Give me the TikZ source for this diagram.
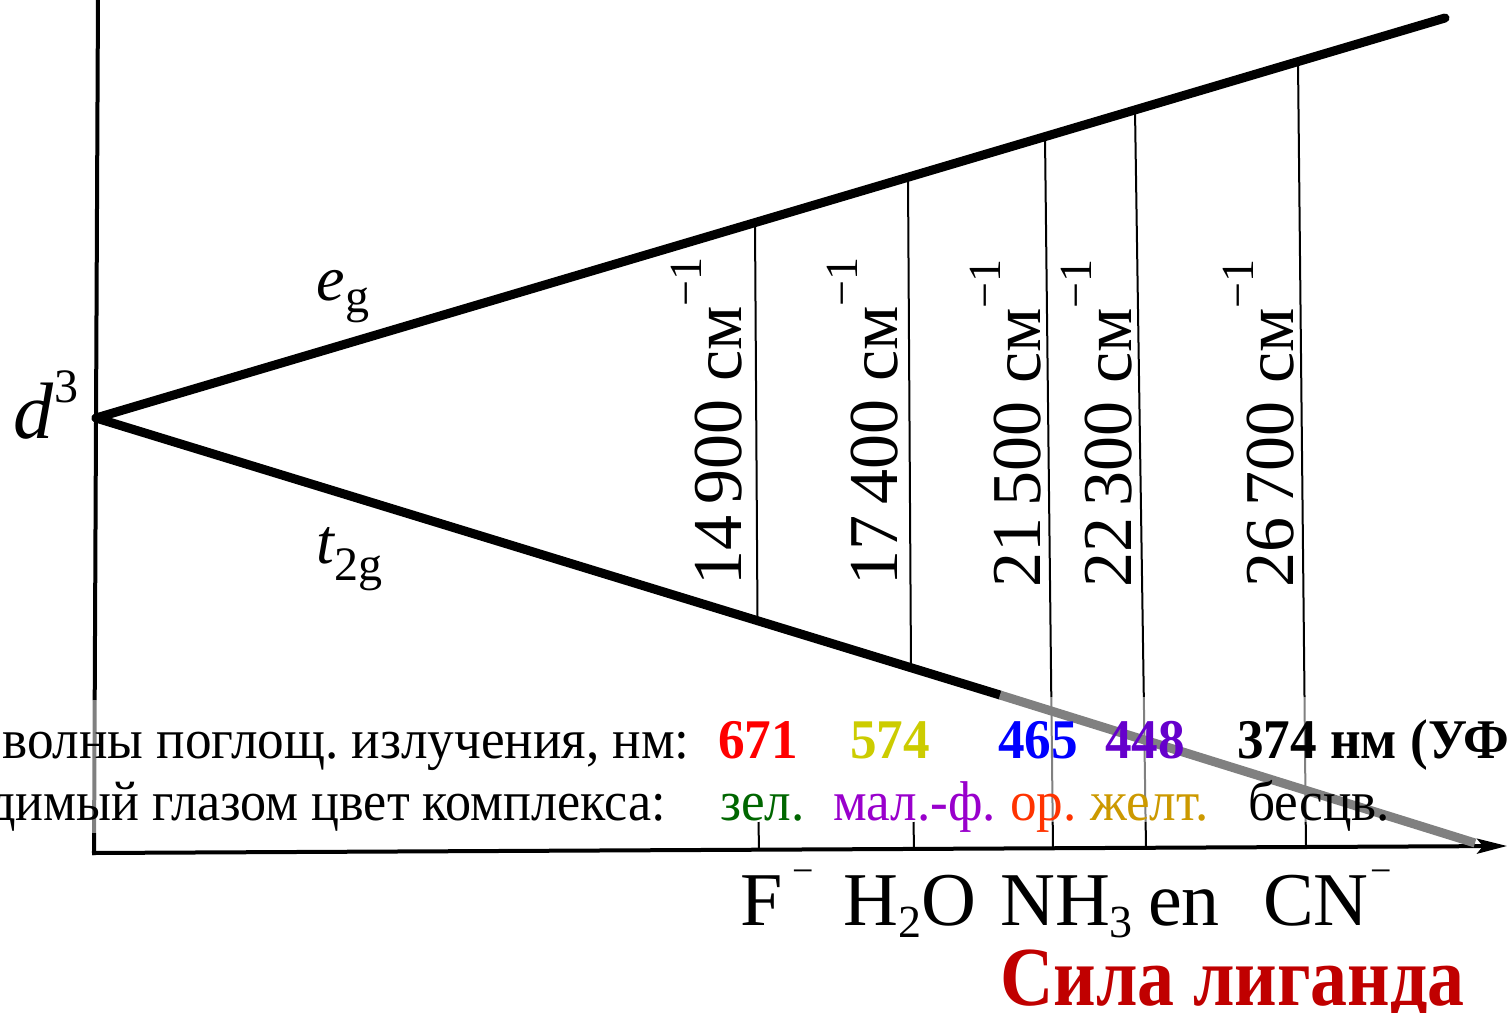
\documentclass[tikz,border=0pt]{standalone}
\usepackage{fontspec}
\setmainfont{Liberation Serif}
\usetikzlibrary{arrows.meta}
\definecolor{cRed}{HTML}{FF0000}
\definecolor{cYel}{HTML}{CCCC00}
\definecolor{cBlue}{HTML}{0000FF}
\definecolor{cViol}{HTML}{6600CC}
\definecolor{cGreen}{HTML}{006600}
\definecolor{cPurp}{HTML}{9900CC}
\definecolor{cOrange}{HTML}{FF3300}
\definecolor{cGold}{HTML}{CC9900}
\definecolor{cDark}{HTML}{C00000}
\definecolor{cGray}{HTML}{808080}
\newcommand{\fsz}[1]{\fontsize{#1}{#1}\selectfont}
\newcommand{\nrw}[1]{\scalebox{0.95}[1]{#1}}
\frenchspacing
\begin{document}
\begin{tikzpicture}[x=1pt,y=-1pt,
  level/.style={line width=9pt, line cap=round},
  axisline/.style={line width=4pt},
  thinline/.style={line width=2pt},
  wn/.style={rotate=90, anchor=base west, inner sep=0pt, font=\fsz{70}},
  lbl/.style={anchor=base west, inner sep=0pt},
  rowA/.style={anchor=base west, inner sep=0pt, font=\fsz{56}\bfseries},
  rowB/.style={anchor=base west, inner sep=0pt, font=\fsz{56}},
  lig/.style={anchor=base west, inner sep=0pt, font=\fsz{76}}]
\useasboundingbox (0,0) rectangle (1507,1012);
\clip (0,0) rectangle (1507,1012);
% key points
\coordinate (O) at (96,418);
\coordinate (EG) at (1445,18);
\coordinate (T1) at (1000,695);
\coordinate (T2) at (1475,843);
\coordinate (VA0) at (98,-5);
\coordinate (VA1) at (94.7,700);
\coordinate (VA2) at (94.1,833);
\coordinate (VA3) at (94,855);
\coordinate (HA0) at (92,853);
\coordinate (HA1) at (1507,846);
% vertical axis
\draw[axisline] (VA0) -- (VA1);
\draw[axisline, cGray] (VA1) -- (VA2);
\draw[axisline] (VA2) -- (VA3);
% horizontal axis
\draw[axisline, -{Stealth[length=30pt,width=15pt,inset=6pt]}] (HA0) -- (HA1);
% vertical transition lines
\coordinate (a1) at (755,223); \coordinate (b1) at (757.5,621);
\coordinate (c1) at (758.5,822); \coordinate (d1) at (759,850);
\coordinate (a2) at (908,178); \coordinate (b2) at (911,668);
\coordinate (c2) at (913.5,822); \coordinate (d2) at (914,849);
\coordinate (a3) at (1045,137); \coordinate (b3) at (1051.3,697);
\coordinate (c3) at (1052.7,822); \coordinate (d3) at (1053,848);
\coordinate (a4) at (1135,110); \coordinate (b4) at (1143.8,697);
\coordinate (c4) at (1145.6,822); \coordinate (d4) at (1146,847);
\coordinate (a5) at (1298,62); \coordinate (b5) at (1304.5,697);
\coordinate (c5) at (1305.7,822); \coordinate (d5) at (1306,846);
\foreach \i in {1,2} {
  \draw[thinline] (a\i) -- (b\i);
  \draw[thinline] (c\i) -- (d\i);
}
\foreach \i in {3,4,5} {
  \draw[thinline] (a\i) -- (b\i);
  \draw[thinline, cGray] (b\i) -- (c\i);
  \draw[thinline] (c\i) -- (d\i);
}
% levels
\draw[level] (O) -- (EG);
\draw[level] (O) -- (T1);
\draw[level, cGray, line cap=butt] (T1) -- (T2);
% level labels
\node[lbl] (dlab) at (13,438) {\fsz{80}\itshape d\kern1pt\raisebox{36pt}{\upshape\fsz{48}3}};
\node[lbl] (eglab) at (316,300) {\fsz{64}\itshape e\kern1pt\raisebox{-12pt}{\upshape\fsz{48}g}};
\node[lbl] (t2glab) at (316,563) {\fsz{64}\itshape t\kern1pt\raisebox{-17pt}{\upshape\fsz{48}2g}};
% wavenumbers
\node[wn] (w1) at (741,586) {14\,900 см\raisebox{40pt}{\fsz{46}−1}};
\node[wn] (w2) at (897,586) {17\,400 см\raisebox{40pt}{\fsz{46}−1}};
\node[wn] (w3) at (1040,588) {21\,500 см\raisebox{40pt}{\fsz{46}−1}};
\node[wn] (w4) at (1131,588) {22\,300 см\raisebox{40pt}{\fsz{46}−1}};
\node[wn] (w5) at (1293,588) {26\,700 см\raisebox{40pt}{\fsz{46}−1}};
% row 1
\node[anchor=base east, inner sep=0pt, font=\fsz{56}] (r1) at (690,758) {\nrw{Длина волны поглощ. излучения, нм:}};
\node[rowA, cRed] (n1) at (718,758) {\nrw{671}};
\node[rowA, cYel] (n2) at (850,758) {\nrw{574}};
\node[rowA, cBlue] (n3) at (998,758) {\nrw{465}};
\node[rowA, cViol] (n4) at (1105,758) {\nrw{448}};
\node[rowA] (n5) at (1237,758) {\nrw{374 нм (УФ)}};
% row 2
\node[anchor=base east, inner sep=0pt, font=\fsz{56}] (r2) at (666,820) {\scalebox{0.93}[1]{Видимый глазом цвет комплекса:}};
\node[rowB, cGreen] (c1n) at (720,820) {\nrw{зел.}};
\node[rowB, cPurp] (c2n) at (833,820) {\nrw{мал.-ф.}};
\node[rowB, cOrange] (c3n) at (1010,820) {\nrw{ор.}};
\node[rowB, cGold] (c4n) at (1090,820) {\nrw{желт.}};
\node[rowB] (c5n) at (1248,820) {\nrw{бесцв.}};
% ligands
\node[lig] (L1) at (740,925) {F\kern10pt\raisebox{42pt}{\fsz{38}−}};
\node[lig] (L2) at (843,925) {H\raisebox{-12pt}{\fsz{46}2}O};
\node[lig] (L3) at (1000,925) {NH\raisebox{-12pt}{\fsz{46}3}};
\node[lig] (L4) at (1148,925) {en};
\node[lig] (L5) at (1263,925) {CN\kern2pt\raisebox{42pt}{\fsz{38}−}};
\node[lbl, text=cDark] (force) at (1000,1005) {\scalebox{0.88}[1]{\fsz{84}\bfseries Сила лиганда}};
\end{tikzpicture}
\end{document}
